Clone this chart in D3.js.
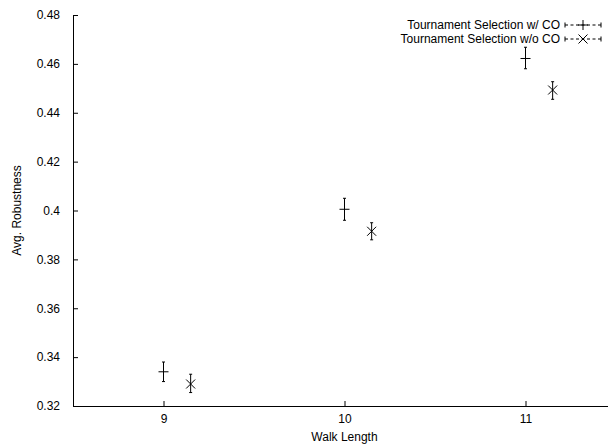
<!DOCTYPE html>
<html><head><meta charset="utf-8">
<script src="https://cdn.jsdelivr.net/npm/d3@7"></script>
<style>body{margin:0;background:#fff} text{font-family:"Liberation Sans",Arial,Helvetica,sans-serif;fill:#000}</style>
</head><body><svg id="c" width="608" height="444"></svg>
<script>
// ---- data ----
const xTickValues = [9, 10, 11];
const yTickValues = [0.32, 0.34, 0.36, 0.38, 0.40, 0.42, 0.44, 0.46, 0.48];
const seriesNames = ["Tournament Selection w/ CO", "Tournament Selection w/o CO"];
const withCOX = [9, 10, 11];
const withCOMean = [0.334, 0.4005, 0.4622];
const withCOLow = [0.330, 0.396, 0.458];
const withCOHigh = [0.338, 0.405, 0.4668];
const withoutCOX = [9.15, 10.15, 11.15];
const withoutCOMean = [0.329, 0.3915, 0.4493];
const withoutCOLow = [0.3255, 0.388, 0.4455];
const withoutCOHigh = [0.333, 0.395, 0.4527];

const series = [
  {name: seriesNames[0], marker: "plus", pts: withCOX.map((x,i)=>({x, y: withCOMean[i], lo: withCOLow[i], hi: withCOHigh[i]}))},
  {name: seriesNames[1], marker: "cross", pts: withoutCOX.map((x,i)=>({x, y: withoutCOMean[i], lo: withoutCOLow[i], hi: withoutCOHigh[i]}))}
];

const svg = d3.select("#c");
const fs = 12;
const x = d3.scaleLinear().domain([8.5, 11.5]).range([73, 616]);
const y = d3.scaleLinear().domain([0.32, 0.48]).range([406, 15]);

const ax = svg.append("g").attr("transform", "translate(0,406)")
  .call(d3.axisBottom(x).tickValues(xTickValues).tickSizeInner(-5).tickSizeOuter(0).tickPadding(8).tickFormat(d3.format("d")));
const ay = svg.append("g").attr("transform", "translate(73,0)")
  .call(d3.axisLeft(y).tickValues(yTickValues).tickSizeInner(-5).tickSizeOuter(0).tickPadding(13).tickFormat(d => String(+d.toFixed(2))));
[ax, ay].forEach(g => {
  g.selectAll("text").style("font-size", fs + "px").style("font-family", '"Liberation Sans",Arial,sans-serif').attr("fill", "#000");
  g.selectAll("line,path").attr("stroke", "#000").attr("stroke-width", 1);
});

svg.append("text").attr("x", x(10)).attr("y", 441).attr("text-anchor", "middle").style("font-size", fs + "px").text("Walk Length");
svg.append("text").attr("transform", `translate(21,${(y(0.32)+y(0.48))/2}) rotate(-90)`).attr("text-anchor", "middle").style("font-size", fs + "px").text("Avg. Robustness");

function drawMarker(g, type, cx, cy) {
  const s = 5, c = 4.5;
  if (type === "plus") {
    g.append("line").attr("x1", cx - s).attr("x2", cx + s).attr("y1", cy).attr("y2", cy);
    g.append("line").attr("x1", cx).attr("x2", cx).attr("y1", cy - s).attr("y2", cy + s);
  } else {
    g.append("line").attr("x1", cx - c).attr("x2", cx + c).attr("y1", cy - c).attr("y2", cy + c);
    g.append("line").attr("x1", cx - c).attr("x2", cx + c).attr("y1", cy + c).attr("y2", cy - c);
  }
}

const marks = svg.append("g").attr("stroke", "#000").attr("stroke-width", 1);
series.forEach(s => {
  s.pts.forEach(p => {
    const cx = x(p.x);
    marks.append("line").attr("x1", cx).attr("x2", cx).attr("y1", y(p.lo)).attr("y2", y(p.hi));
    marks.append("line").attr("x1", cx - 1.5).attr("x2", cx + 1.5).attr("y1", y(p.lo)).attr("y2", y(p.lo));
    marks.append("line").attr("x1", cx - 1.5).attr("x2", cx + 1.5).attr("y1", y(p.hi)).attr("y2", y(p.hi));
    drawMarker(marks, s.marker, cx, y(p.y));
  });
});

// legend
const lg = svg.append("g");
series.forEach((s, i) => {
  const ly = 25 + i * 14;
  lg.append("text").attr("x", 560).attr("y", ly).attr("dy", "0.35em").attr("text-anchor", "end").style("font-size", fs + "px").text(s.name);
  const g = lg.append("g").attr("stroke", "#000").attr("stroke-width", 1);
  g.append("line").attr("x1", 565).attr("x2", 601).attr("y1", ly).attr("y2", ly).attr("stroke-dasharray", "3,2.5");
  g.append("line").attr("x1", 565).attr("x2", 565).attr("y1", ly - 2.5).attr("y2", ly + 2.5);
  g.append("line").attr("x1", 601).attr("x2", 601).attr("y1", ly - 2.5).attr("y2", ly + 2.5);
  drawMarker(g, s.marker, 583, ly);
});
</script></body></html>
